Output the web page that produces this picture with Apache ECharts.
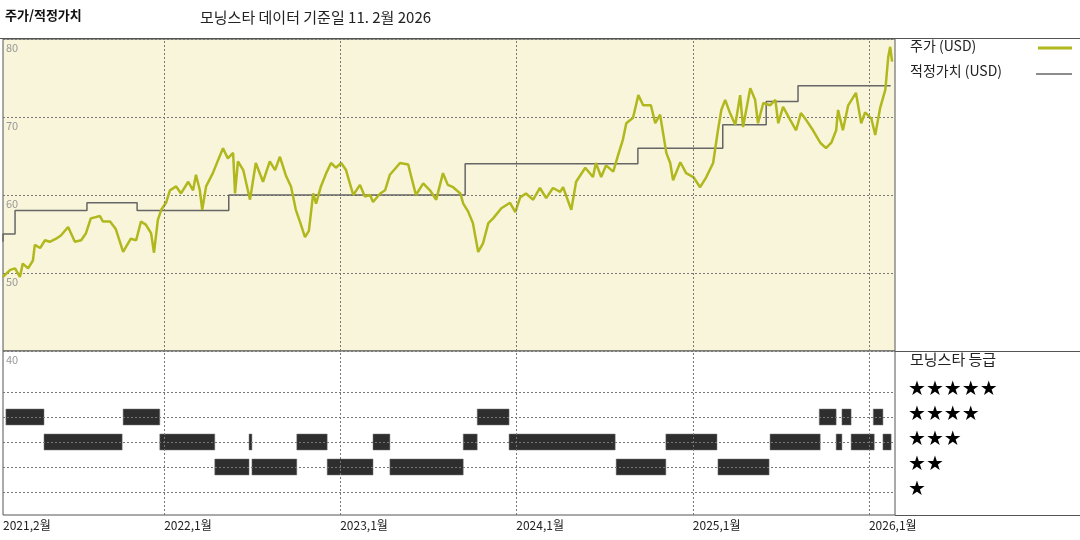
<!DOCTYPE html>
<html>
<head>
<meta charset="utf-8">
<script src="https://cdn.jsdelivr.net/npm/echarts@6/dist/echarts.min.js"></script>
<style>
body { margin: 0; background: #fff; }
#main { width: 1080px; height: 540px; }
</style>
</head>
<body>
<div id="main"></div>
<script>
// days counted from 2021-02-01
var xTickDays = [0, 334, 699, 1064, 1430, 1795];
var xTickLabels = ['2021,2월', '2022,1월', '2023,1월', '2024,1월', '2025,1월', '2026,1월'];

var priceDays = [0,15,25,35,41,52,62,66,77,87,97,110,120,135,149,162,172,182,201,207,222,234,249,265,276,286,296,307,313,321,328,338,346,359,369,384,394,400,408,413,421,435,446,456,466,477,481,487,498,512,524,539,553,564,574,587,597,607,616,626,634,643,649,659,670,680,690,701,711,726,740,750,761,767,782,792,802,823,840,846,856,871,885,898,912,922,933,948,954,964,974,985,995,1006,1016,1033,1051,1062,1072,1084,1099,1113,1126,1140,1155,1161,1178,1188,1207,1223,1229,1240,1250,1265,1275,1285,1292,1306,1317,1327,1343,1352,1362,1375,1383,1389,1404,1416,1431,1445,1457,1472,1482,1489,1497,1507,1518,1528,1534,1549,1559,1565,1576,1590,1601,1607,1617,1632,1644,1654,1665,1679,1694,1706,1717,1727,1731,1741,1752,1768,1779,1787,1800,1808,1818,1829,1835,1839,1843];
var priceValues = [49.5,50.4,50.6,49.5,51.2,50.6,51.6,53.6,53.2,54.2,54.0,54.4,54.8,55.9,54.0,54.2,55.1,57.0,57.3,56.6,56.6,55.6,52.7,54.4,54.2,56.6,56.2,55.1,52.6,56.8,58.1,59.0,60.6,61.1,60.2,61.7,60.6,62.6,60.6,58.1,61.1,62.8,64.5,66.0,64.7,65.4,60.2,64.3,63.2,59.4,64.1,61.7,64.3,63.2,64.9,62.4,61.1,58.1,56.5,54.6,55.4,60.2,58.9,61.1,62.8,64.1,63.5,64.1,63.2,60.0,61.3,59.8,60.0,59.1,60.2,60.6,62.6,64.1,63.9,62.4,60.0,61.5,60.6,59.4,62.8,61.3,61.0,60.2,58.9,57.9,56.4,52.7,53.8,56.4,57.0,58.3,59.0,57.8,59.7,60.2,59.4,60.9,59.6,60.9,60.4,61.0,58.1,61.7,63.5,62.3,64.1,62.3,63.8,63.0,65.1,67.1,69.2,69.9,72.8,71.5,71.5,69.2,70.3,65.4,64.1,61.9,64.2,62.8,62.3,61.0,62.2,64.1,68.3,70.9,72.2,70.5,69.0,72.8,68.7,73.7,72.2,69.2,71.8,71.5,72.2,69.2,71.3,69.6,68.3,70.5,69.6,68.3,66.7,66.0,66.7,68.3,70.9,68.3,71.5,73.1,69.2,70.6,69.8,67.7,71.1,73.5,77.7,79.0,77.1];

var fairDays = [0, 25, 174, 278, 468, 958, 1316, 1492, 1582, 1648, 1733, 1840];
var fairValues = [54, 55, 58, 59, 58, 60, 64, 66, 69, 72, 74, 74];

// morningstar rating periods: [start day, end day, stars]
var ratingStart = [6,249,983,1692,1739,1804, 85,325,510,609,767,954,1049,1374,1590,1727,1758,1824, 439,516,672,802,1271,1482];
var ratingEnd   = [85,325,1049,1727,1758,1824, 247,439,516,672,802,983,1269,1480,1694,1739,1806,1841, 510,609,767,954,1374,1588];
var ratingStars = [4,4,4,4,4,4, 3,3,3,3,3,3,3,3,3,3,3,3, 2,2,2,2,2,2];

var starLabels = ['★★★★★', '★★★★', '★★★', '★★', '★'];

var dayMax = 1849;
var grid = '#777';

var priceData = priceDays.map(function (d, i) { return [d, priceValues[i]]; });
var fairData = fairDays.map(function (d, i) { return [d, fairValues[i]]; });
var ratingData = ratingStart.map(function (s, i) { return [s, ratingEnd[i], ratingStars[i]]; });

var vLines = xTickDays.slice(1).map(function (d) { return { xAxis: d }; });
var hLines = [1, 2, 3, 4, 5].map(function (v) { return { yAxis: v }; });
var lineStyleGrid = { color: grid, type: [2, 2], width: 1 };

var myChart = echarts.init(document.getElementById('main'));
var option = {
	animation: false,
	textStyle: { fontFamily: 'Noto Sans CJK KR' },
	grid: [
		{ left: 3, right: 185, top: 39, height: 312, show: true, backgroundColor: '#f9f5da', borderColor: '#555', borderWidth: 1 },
		{ left: 3, right: 185, top: 351, height: 164, show: true, backgroundColor: '#fff', borderColor: '#555', borderWidth: 1 }
	],
	xAxis: [
		{ type: 'value', gridIndex: 0, min: 0, max: dayMax, axisLine: { show: false }, axisTick: { show: false }, axisLabel: { show: false }, splitLine: { show: false } },
		{ type: 'value', gridIndex: 1, min: 0, max: dayMax, axisLine: { show: false }, axisTick: { show: false }, splitLine: { show: false },
			axisLabel: {
				customValues: xTickDays, align: 'left', color: '#222', fontSize: 12, margin: 4,
				formatter: function (v) { var i = xTickDays.indexOf(v); return i >= 0 ? xTickLabels[i] : ''; }
			}
		}
	],
	yAxis: [
		{ type: 'value', gridIndex: 0, min: 40, max: 80, interval: 10, axisLine: { show: false }, axisTick: { show: false },
			axisLabel: { inside: true, verticalAlign: 'top', color: '#999', fontSize: 11, margin: 3, padding: [3, 0, 0, 0] },
			splitLine: { show: true, lineStyle: lineStyleGrid } },
		{ type: 'value', gridIndex: 1, min: 0.08, max: 6.64, axisLine: { show: false }, axisTick: { show: false }, axisLabel: { show: false }, splitLine: { show: false } }
	],
	series: [
		{ type: 'line', xAxisIndex: 0, yAxisIndex: 0, data: fairData, step: 'start', symbol: 'none', lineStyle: { color: '#666', width: 1.5 },
			markLine: { silent: true, symbol: 'none', label: { show: false }, lineStyle: lineStyleGrid, data: vLines } },
		{ type: 'line', xAxisIndex: 0, yAxisIndex: 0, data: priceData, symbol: 'none', lineStyle: { color: '#b0b81e', width: 2.5 } },
		{ type: 'custom', xAxisIndex: 1, yAxisIndex: 1, data: ratingData,
			renderItem: function (params, api) {
				var a = api.coord([api.value(0), api.value(2)]);
				var b = api.coord([api.value(1), api.value(2)]);
				return { type: 'rect', shape: { x: a[0], y: a[1] - 8, width: Math.max(b[0] - a[0], 1.5), height: 16 },
					style: { fill: '#2e2e2e', stroke: '#777', lineWidth: 0.5 } };
			},
			markLine: { silent: true, symbol: 'none', label: { show: false }, lineStyle: lineStyleGrid, data: vLines.concat(hLines) } }
	],
	graphic: [
		{ type: 'text', left: 5, top: 9, style: { text: '주가/적정가치', font: 'bold 13px "Noto Sans CJK KR"', fill: '#111' } },
		{ type: 'text', left: 200, top: 10, style: { text: '모닝스타 데이터 기준일 11. 2월 2026', font: '15px "Noto Sans CJK KR"', fill: '#222' } },
		{ type: 'line', shape: { x1: 0, y1: 38.5, x2: 1080, y2: 38.5 }, style: { stroke: '#555', lineWidth: 1 } },
		{ type: 'line', shape: { x1: 895, y1: 351.5, x2: 1080, y2: 351.5 }, style: { stroke: '#555', lineWidth: 1 } },
		{ type: 'line', shape: { x1: 895, y1: 515.5, x2: 1080, y2: 515.5 }, style: { stroke: '#555', lineWidth: 1 } },
		{ type: 'text', left: 910, top: 39, style: { text: '주가 (USD)', font: '14px "Noto Sans CJK KR"', fill: '#222' } },
		{ type: 'line', shape: { x1: 1038, y1: 48, x2: 1072, y2: 48 }, style: { stroke: '#b0b81e', lineWidth: 3 } },
		{ type: 'text', left: 910, top: 64, style: { text: '적정가치 (USD)', font: '14px "Noto Sans CJK KR"', fill: '#222' } },
		{ type: 'line', shape: { x1: 1036, y1: 74, x2: 1072, y2: 74 }, style: { stroke: '#666', lineWidth: 1.5 } },
		{ type: 'text', left: 910, top: 352, style: { text: '모닝스타 등급', font: '15px "Noto Sans CJK KR"', fill: '#222' } }
	].concat(starLabels.map(function (s, i) {
		return { type: 'text', left: 908, top: 380 + i * 25, style: { text: s, font: '20px "DejaVu Sans"', fill: '#000' } };
	}))
};
myChart.setOption(option);
</script>
</body>
</html>
